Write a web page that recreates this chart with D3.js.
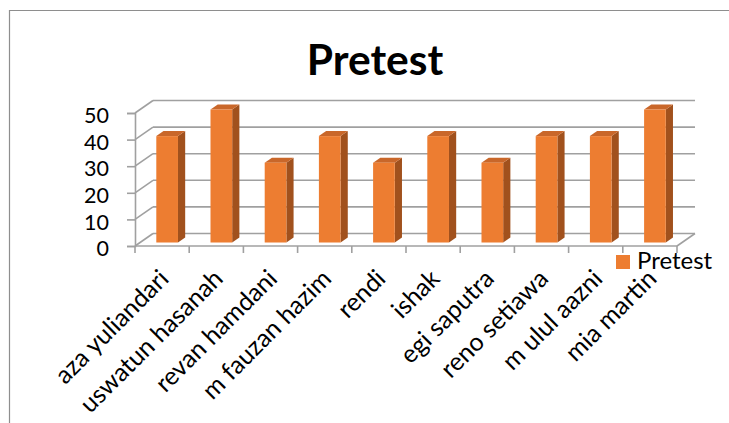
<!DOCTYPE html>
<html>
<head>
<meta charset="utf-8">
<script src="https://cdn.jsdelivr.net/npm/d3@7"></script>
<style>
  html, body { margin: 0; padding: 0; background: #fff; }
  svg { display: block; }
</style>
</head>
<body>
<svg id="chart" width="729" height="423"></svg>
<script>
// Chart data
const categories = ["aza yuliandari", "uswatun hasanah", "revan hamdani", "m fauzan hazim",
  "rendi", "ishak", "egi saputra", "reno setiawa", "m ulul aazni", "mia martin"];
const pretestValues = [40, 50, 30, 40, 30, 40, 30, 40, 40, 50];
const yTicks = [0, 10, 20, 30, 40, 50];
const seriesName = "Pretest";
const chartTitle = "Pretest";

const svg = d3.select("#chart");
const FONT = "Lato, 'Open Sans', sans-serif";

// Front plane of the 3D plot box and the depth vector toward the back wall
const x0 = 135, x1 = 677;
const depth = { x: 18, y: -12.5 };
const barFront = 0.28, barBack = 0.68;   // bar depth as fractions of the box depth

const x = d3.scaleBand().domain(categories).range([x0, x1]).paddingInner(0.6).paddingOuter(0.3);
const y = d3.scaleLinear().domain([0, 50]).range([246, 113]);

const gridColor = "#a0a0a0";

// outer frame
svg.append("path")
  .attr("d", "M9.5,423 L9.5,10.5 L729,10.5")
  .attr("fill", "none").attr("stroke", "#8e8e8e").attr("stroke-width", 1.2);

// title
svg.append("text")
  .attr("x", 375).attr("y", 75)
  .attr("text-anchor", "middle")
  .attr("font-family", FONT).attr("font-weight", "bold").attr("font-size", 42.5)
  .attr("fill", "#000")
  .text(chartTitle);

const grid = svg.append("g").attr("stroke", gridColor).attr("stroke-width", 1.6).attr("fill", "none");

// back-wall gridlines and side-wall diagonals
yTicks.forEach(v => {
  grid.append("line")
    .attr("x1", x0 + depth.x).attr("y1", y(v) + depth.y)
    .attr("x2", x1 + depth.x).attr("y2", y(v) + depth.y);
  grid.append("line")
    .attr("x1", x0).attr("y1", y(v))
    .attr("x2", x0 + depth.x).attr("y2", y(v) + depth.y);
});

// floor edges
grid.append("line").attr("x1", x0).attr("y1", y(0)).attr("x2", x1).attr("y2", y(0));
grid.append("line").attr("x1", x1).attr("y1", y(0)).attr("x2", x1 + depth.x).attr("y2", y(0) + depth.y);

// value axis
const yAxis = d3.axisLeft(y).tickValues(yTicks).tickSize(8).tickPadding(18);
const yG = svg.append("g").attr("transform", `translate(${x0},0)`).call(yAxis);
yG.select(".domain").attr("stroke", gridColor).attr("stroke-width", 1.6);
yG.selectAll(".tick line").attr("stroke", gridColor).attr("stroke-width", 1.6);
yG.selectAll(".tick text")
  .attr("font-family", FONT).attr("font-size", 21.5).attr("fill", "#000").attr("dy", "0.45em");

// category axis ticks (at band boundaries)
const step = x.step();
const tickXs = d3.range(categories.length + 1).map(i => x0 + i * step);
svg.append("g").selectAll("line").data(tickXs).join("line")
  .attr("x1", d => d).attr("x2", d => d)
  .attr("y1", y(0)).attr("y2", y(0) + 7)
  .attr("stroke", gridColor).attr("stroke-width", 1.6);

// category labels, rotated
svg.append("g").selectAll("text").data(categories).join("text")
  .attr("transform", d => `translate(${x(d) + x.bandwidth() / 2 + 2},${y(0) + 28}) rotate(-45)`)
  .attr("text-anchor", "end")
  .attr("dy", "0.35em")
  .attr("font-family", FONT).attr("font-size", 25).attr("fill", "#000")
  .text(d => d);

// 3D columns
const fx = barFront * depth.x, fy = barFront * depth.y;
const bx = barBack * depth.x, by = barBack * depth.y;
const bars = svg.append("g").selectAll("g").data(categories.map((c, i) => ({ c, v: pretestValues[i] }))).join("g");

bars.each(function (d) {
  const g = d3.select(this);
  const left = x(d.c) + fx, right = x(d.c) + x.bandwidth() + fx;
  const top = y(d.v) + fy, bottom = y(0) + fy;
  // side face
  g.append("polygon")
    .attr("points", [[right, top], [right + bx - fx, top + by - fy], [right + bx - fx, bottom + by - fy], [right, bottom]].join(" "))
    .attr("fill", "#a1511d");
  // top face
  g.append("polygon")
    .attr("points", [[left, top], [left + bx - fx, top + by - fy], [right + bx - fx, top + by - fy], [right, top]].join(" "))
    .attr("fill", "#c9672a");
  // front face
  g.append("rect")
    .attr("x", left).attr("y", top)
    .attr("width", right - left).attr("height", bottom - top)
    .attr("fill", "#ed7d31");
});

// legend
const legend = svg.append("g").attr("transform", "translate(616,255)");
legend.append("rect").attr("width", 14).attr("height", 14).attr("fill", "#ed7d31");
legend.append("text")
  .attr("x", 21).attr("y", 14)
  .attr("font-family", FONT).attr("font-size", 24).attr("fill", "#000")
  .text(seriesName);
</script>
</body>
</html>
